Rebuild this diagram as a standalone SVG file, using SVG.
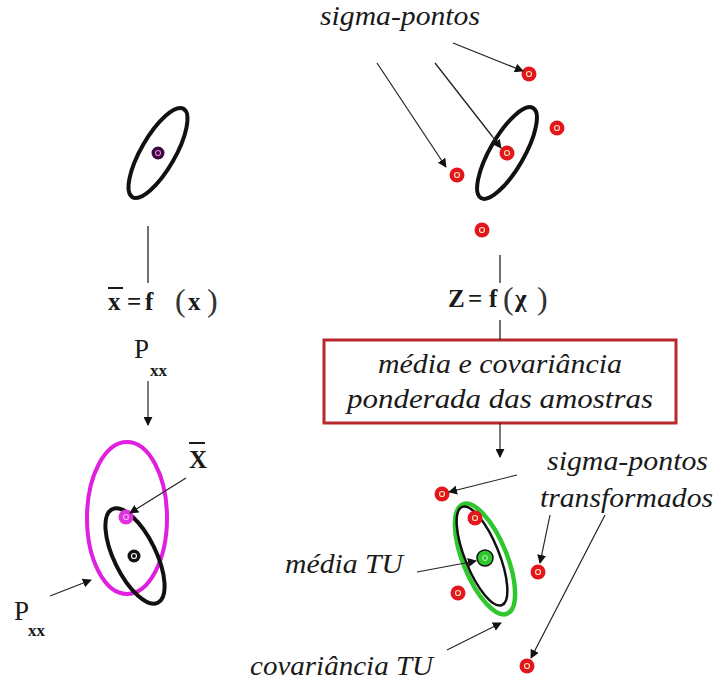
<svg xmlns="http://www.w3.org/2000/svg" width="718" height="687" viewBox="0 0 718 687">
<style>
.lbl{font-family:'Liberation Serif','Times New Roman',Times,serif;font-style:italic;font-size:28px;fill:#1a1a1a}
.math{font-family:'Liberation Serif','Times New Roman',Times,serif;font-weight:bold;font-size:25px;fill:#1a1a1a}
.par{font-family:'Liberation Serif','Times New Roman',Times,serif;font-size:32px;fill:#333}
.rm{font-family:'Liberation Serif','Times New Roman',Times,serif;font-size:27px;fill:#1a1a1a}
.sub{font-family:'Liberation Serif','Times New Roman',Times,serif;font-weight:bold;font-size:17px;fill:#1a1a1a}
.ln{stroke:#222;stroke-width:1.3;fill:none}
.ar{stroke:#222;stroke-width:1.2;fill:none;marker-end:url(#ah)}
.ell{fill:none;stroke:#111;stroke-width:4}
.rd{fill:#e3161e}
.rc{fill:none;stroke:#f7e3b0;stroke-width:1.2}
</style>
<defs>
<marker id="ah" viewBox="0 0 10 10" refX="9" refY="5" markerWidth="9" markerHeight="9" markerUnits="userSpaceOnUse" orient="auto">
<path d="M0,0 L10,5 L0,10 z" fill="#111"/>
</marker>
</defs>
<rect width="718" height="687" fill="#fff"/>

<g id="ellipse-prior">
<ellipse cx="158" cy="153" rx="17" ry="51" transform="rotate(30 158 153)" class="ell" stroke-width="4.5"/>
<circle cx="158" cy="153" r="6.5" fill="#3a0a3a"/>
<circle cx="158" cy="153" r="2.5" fill="none" stroke="#e080e0" stroke-width="1.2"/>
</g>

<g id="eq-left">
<text x="108" y="310" class="math">x</text>
<line x1="108" y1="288" x2="123" y2="288" stroke="#1a1a1a" stroke-width="2"/>
<text x="127" y="310" class="math">=</text>
<text x="145" y="310" class="math">f</text>
<text x="175" y="311" class="par">(</text>
<text x="188" y="310" class="math">x</text>
<text x="207" y="311" class="par">)</text>
</g>

<g id="pxx-top">
<text x="134" y="358" class="rm">P</text>
<text x="150" y="376" class="sub">xx</text>
</g>

<g id="result-left">
<ellipse cx="127" cy="518" rx="40" ry="76" fill="none" stroke="#e020e0" stroke-width="4"/>
<ellipse cx="135" cy="556" rx="21" ry="52" transform="rotate(-26 135 556)" class="ell"/>
<circle cx="126" cy="517" r="7.5" fill="#e030e0"/>
<circle cx="126" cy="517" r="2.5" fill="none" stroke="#f4b0f4" stroke-width="1.2"/>
<circle cx="134" cy="556" r="6.5" fill="#111"/>
<circle cx="134" cy="556" r="2.5" fill="none" stroke="#eee" stroke-width="1.2"/>
</g>

<g id="xbar-label">
<text x="189" y="468" class="math" font-size="27">X</text>
<line x1="189" y1="443" x2="205" y2="443" stroke="#1a1a1a" stroke-width="2"/>
</g>

<g id="pxx-bottom">
<text x="14" y="620" class="rm">P</text>
<text x="28" y="636" class="sub">xx</text>
</g>

<g id="sigma-top-label">
<text x="320" y="25" class="lbl" textLength="160" lengthAdjust="spacingAndGlyphs">sigma-pontos</text>
</g>

<g id="sigma-prior">
<ellipse cx="507" cy="153" rx="17" ry="52" transform="rotate(30 507 153)" class="ell" stroke-width="4.5"/>
<circle cx="529" cy="74" r="7.5" class="rd"/><circle cx="529" cy="74" r="2.5" class="rc"/>
<circle cx="557" cy="128" r="7.5" class="rd"/><circle cx="557" cy="128" r="2.5" class="rc"/>
<circle cx="507" cy="153" r="7.5" class="rd"/><circle cx="507" cy="153" r="2.5" class="rc"/>
<circle cx="457" cy="175" r="7.5" class="rd"/><circle cx="457" cy="175" r="2.5" class="rc"/>
<circle cx="482" cy="230" r="7.5" class="rd"/><circle cx="482" cy="230" r="2.5" class="rc"/>
</g>

<g id="eq-right">
<text x="448" y="307" class="math">Z</text>
<text x="468" y="307" class="math">=</text>
<text x="489" y="307" class="math">f</text>
<text x="503" y="309" class="par">(</text>
<text x="515" y="307" class="math">χ</text>
<text x="537" y="309" class="par">)</text>
</g>

<g id="box-media">
<rect x="324" y="340" width="352" height="83" fill="#fff" stroke="#b8282c" stroke-width="3"/>
<text x="500" y="373" class="lbl" text-anchor="middle" textLength="244" lengthAdjust="spacingAndGlyphs">média e covariância</text>
<text x="500" y="408" class="lbl" text-anchor="middle" textLength="306" lengthAdjust="spacingAndGlyphs">ponderada das amostras</text>
</g>

<g id="sigma-transformed">
<ellipse cx="485" cy="559" rx="22" ry="59" transform="rotate(-22 485 559)" fill="none" stroke="#2ec82e" stroke-width="4.5"/>
<ellipse cx="482" cy="556" rx="17" ry="53" transform="rotate(-22 482 556)" fill="none" stroke="#111" stroke-width="2.5"/>
<circle cx="442" cy="494" r="7.5" class="rd"/><circle cx="442" cy="494" r="2.5" class="rc"/>
<circle cx="475" cy="518" r="7.5" class="rd"/><circle cx="475" cy="518" r="2.5" class="rc"/>
<circle cx="458" cy="593" r="7.5" class="rd"/><circle cx="458" cy="593" r="2.5" class="rc"/>
<circle cx="538" cy="572" r="7.5" class="rd"/><circle cx="538" cy="572" r="2.5" class="rc"/>
<circle cx="527" cy="666" r="7.5" class="rd"/><circle cx="527" cy="666" r="2.5" class="rc"/>
<circle cx="485" cy="558" r="8" fill="#2ec82e" stroke="#111" stroke-width="1.5"/>
<circle cx="485" cy="558" r="2.5" fill="none" stroke="#bff0bf" stroke-width="1"/>
</g>

<g id="sigma-bottom-label">
<text x="547" y="470" class="lbl" textLength="161" lengthAdjust="spacingAndGlyphs">sigma-pontos</text>
<text x="540" y="507" class="lbl" textLength="173" lengthAdjust="spacingAndGlyphs">transformados</text>
</g>

<g id="media-tu-label">
<text x="285" y="573" class="lbl" textLength="118" lengthAdjust="spacingAndGlyphs">média TU</text>
</g>

<g id="cov-tu-label">
<text x="250" y="675" class="lbl" textLength="183" lengthAdjust="spacingAndGlyphs">covariância TU</text>
</g>

<g id="connectors">
<line x1="148" y1="226" x2="148" y2="283" class="ln"/>
<line x1="148" y1="381" x2="148" y2="425" class="ar"/>
<line x1="186" y1="478" x2="130" y2="513" class="ar"/>
<line x1="50" y1="596" x2="91" y2="580" class="ar"/>
<line x1="453" y1="43" x2="523" y2="71" class="ar"/>
<line x1="377" y1="63" x2="446" y2="167" class="ar"/>
<line x1="435" y1="63" x2="492" y2="136" class="ln"/>
<line x1="492" y1="136" x2="501" y2="148" class="ar"/>
<line x1="500" y1="255" x2="500" y2="283" class="ln"/>
<line x1="500" y1="320" x2="500" y2="340" class="ln"/>
<line x1="500" y1="423" x2="500" y2="457" class="ar"/>
<line x1="517" y1="475" x2="449" y2="492" class="ar"/>
<line x1="550" y1="515" x2="540" y2="563" class="ar"/>
<line x1="605" y1="515" x2="531" y2="658" class="ar"/>
<line x1="417" y1="572" x2="476" y2="561" class="ar"/>
<line x1="447" y1="650" x2="501" y2="623" class="ar"/>
</g>
</svg>
